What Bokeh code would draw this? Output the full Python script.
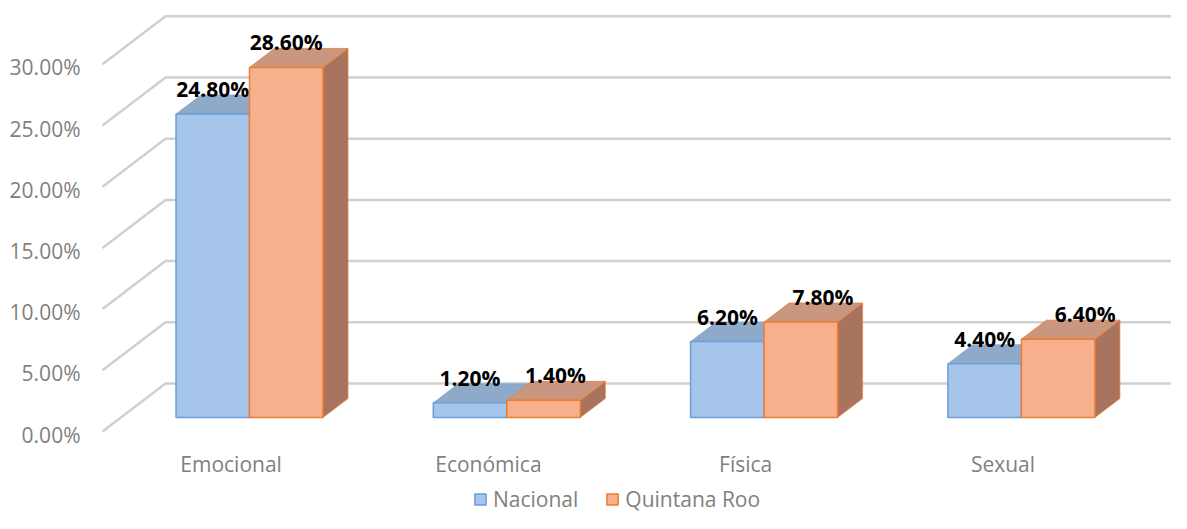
from bokeh.plotting import figure
from bokeh.models import (Range1d, LinearAxis, FixedTicker, PrintfTickFormatter,
                          Legend, LegendItem, ColumnDataSource)
from bokeh.core.properties import value
from bokeh.embed import file_html
from bokeh.resources import INLINE

# ---------------- data ----------------
categories = ["Emocional", "Económica", "Física", "Sexual"]
nacional = [24.8, 1.2, 6.2, 4.4]
quintana_roo = [28.6, 1.4, 7.8, 6.4]
y_ticks = [0, 5, 10, 15, 20, 25, 30]
series_names = ["Nacional", "Quintana Roo"]

# ---------------- style / geometry ----------------
PX_X = 257.3          # px per category unit
PX_Y = 12.24          # px per percent
BAR_W = 73.5 / PX_X
DEP_X = 25 / PX_X     # bar depth offsets
DEP_Y = 19 / PX_Y
BACK_X = 44.6 / PX_X  # back wall offset from bar plane
BACK_Y = 34 / PX_Y
FRONT_X = -18.4 / PX_X  # front plane offset from bar plane
FRONT_Y = -14 / PX_Y
LABEL_SHIFT = 3 / PX_Y  # tick labels sit slightly below their lines
orange_label_dx = [0, 12, 22, 27]

FONT = "Open Sans"
FS = "21px"
GRAY = "#7f7f7f"
GRID = "#d0d0d0"
BLUE_FRONT, BLUE_TOP, BLUE_LINE = "#a6c5ea", "#8fa9c9", "#6a9fd8"
OR_FRONT, OR_TOP, OR_SIDE, OR_LINE = "#f7b08b", "#c99780", "#a8735f", "#ed7d31"

W, H = 1171, 513
LEFT = 100
fw, fh = W - LEFT, H
cx0 = 249 - LEFT            # canvas x of category 0 inside frame
by0 = 417                   # canvas y of bar-plane zero
x_start = -cx0 / PX_X
x_end = x_start + fw / PX_X
y_start = -(fh - by0) / PX_Y
y_end = y_start + fh / PX_Y

p = figure(width=W, height=H, output_backend="svg", toolbar_location=None,
           x_range=Range1d(x_start, x_end), y_range=Range1d(y_start, y_end),
           x_axis_type=None, y_axis_type=None,
           min_border_left=LEFT, min_border_right=0, min_border_top=0,
           min_border_bottom=0)
p.outline_line_color = None
p.background_fill_color = "white"

p.extra_y_ranges = {"front": Range1d(y_start - FRONT_Y + LABEL_SHIFT,
                                     y_end - FRONT_Y + LABEL_SHIFT)}

# ---------------- gridlines (back wall + left side wall) ----------------
back_left = x_start + (165 - LEFT) / PX_X
front_left = back_left - BACK_X + FRONT_X
gx, gy = [], []
for t in y_ticks:
    gx.append([front_left, back_left, x_end + 1])
    gy.append([t + FRONT_Y, t + BACK_Y, t + BACK_Y])
p.multi_line(gx, gy, line_color=GRID, line_width=2.5)

# ---------------- bars ----------------
def faces(vals, left_shift):
    front = dict(l=[], r=[], t=[], b=[])
    top_x, top_y, side_x, side_y = [], [], [], []
    for i, v in enumerate(vals):
        l = i + left_shift
        r = l + BAR_W
        front["l"].append(l); front["r"].append(r)
        front["t"].append(v); front["b"].append(0)
        top_x.append([l, r, r + DEP_X, l + DEP_X])
        top_y.append([v, v, v + DEP_Y, v + DEP_Y])
        side_x.append([r, r + DEP_X, r + DEP_X, r])
        side_y.append([0, DEP_Y, v + DEP_Y, v])
    return front, top_x, top_y, side_x, side_y

bf, btx, bty, bsx, bsy = faces(nacional, -BAR_W)
of, otx, oty, osx, osy = faces(quintana_roo, 0)

p.patches(bsx, bsy, fill_color="#7f9cc0", line_color=BLUE_LINE, line_width=1)
p.patches(btx, bty, fill_color=BLUE_TOP, line_color=BLUE_LINE, line_width=1, line_alpha=0.6)
r_blue = p.quad(left="l", right="r", top="t", bottom="b", source=ColumnDataSource(bf),
                fill_color=BLUE_FRONT, line_color=BLUE_LINE, line_width=1.5)
p.patches(osx, osy, fill_color=OR_SIDE, line_color=OR_LINE, line_width=1, line_alpha=0.7)
p.patches(otx, oty, fill_color=OR_TOP, line_color=OR_LINE, line_width=1, line_alpha=0.8)
r_orange = p.quad(left="l", right="r", top="t", bottom="b", source=ColumnDataSource(of),
                  fill_color=OR_FRONT, line_color=OR_LINE, line_width=1.5)

# ---------------- data labels ----------------
lab_b = ColumnDataSource(dict(x=[i - BAR_W / 2 for i in range(len(nacional))], y=nacional,
                              t=[f"{v:.2f}%" for v in nacional]))
p.text("x", "y", text="t", source=lab_b, text_align="center", text_baseline="middle",
       y_offset=-25, text_font=value(FONT), text_font_style="bold",
       text_font_size=FS, text_color="black")
lab_o = ColumnDataSource(dict(x=[i + BAR_W / 2 for i in range(len(quintana_roo))], y=quintana_roo,
                              t=[f"{v:.2f}%" for v in quintana_roo], dx=orange_label_dx))
p.text("x", "y", text="t", source=lab_o, text_align="center", text_baseline="middle",
       x_offset="dx", y_offset=-25, text_font=value(FONT), text_font_style="bold",
       text_font_size=FS, text_color="black")

# ---------------- category labels (on the front plane of the floor) ----------------
cat_src = ColumnDataSource(dict(x=[i + FRONT_X for i in range(len(categories))],
                                y=[FRONT_Y] * len(categories), t=categories))
p.text("x", "y", text="t", source=cat_src, text_align="center", text_baseline="middle",
       y_offset=32, text_font=value(FONT), text_font_size=FS, text_color=GRAY)

# ---------------- value axis ----------------
yax = LinearAxis(y_range_name="front", ticker=FixedTicker(ticks=y_ticks),
                 formatter=PrintfTickFormatter(format="%.2f%%"))
yax.axis_line_color = None
yax.major_tick_line_color = None
yax.minor_tick_line_color = None
yax.major_label_standoff = 14
yax.major_label_text_font = FONT
yax.major_label_text_font_size = FS
yax.major_label_text_color = GRAY
p.add_layout(yax, "left")

legend = Legend(items=[LegendItem(label=series_names[0], renderers=[r_blue]),
                       LegendItem(label=series_names[1], renderers=[r_orange])],
                orientation="horizontal", location=(373, 0),
                glyph_width=14, glyph_height=14, label_standoff=6, spacing=27,
                padding=0, margin=0, border_line_color=None, background_fill_alpha=0,
                label_text_font=FONT, label_text_font_size=FS, label_text_color=GRAY)
p.add_layout(legend, "center")

open("out.html", "w").write(file_html(p, INLINE))
